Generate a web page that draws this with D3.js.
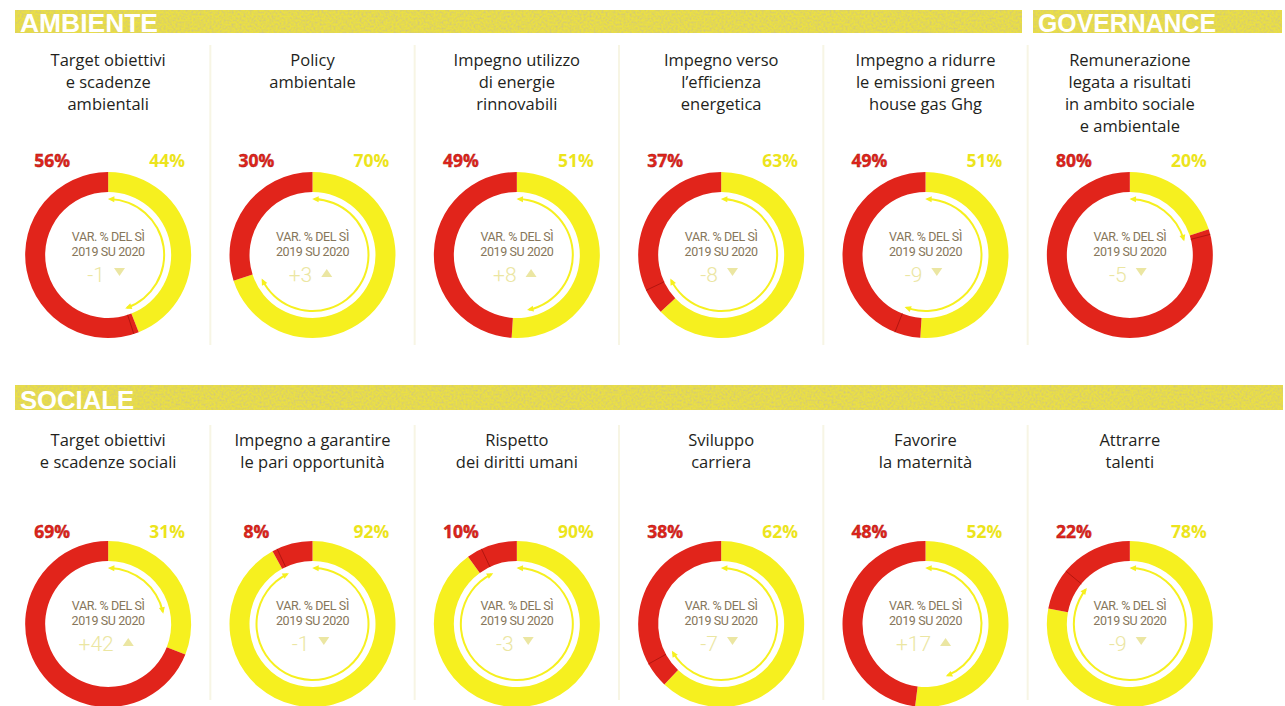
<!DOCTYPE html>
<html><head><meta charset="utf-8">
<script src="https://cdn.jsdelivr.net/npm/d3@7"></script>
<style>
html,body{margin:0;padding:0;background:#fff;}
svg{display:block;}
</style></head>
<body>
<svg id="c" width="1285" height="706"></svg>
<script>
// ---------- DATA ----------
const sections = ["AMBIENTE", "GOVERNANCE", "SOCIALE"];

const topTitles = [
  ["Target obiettivi", "e scadenze", "ambientali"],
  ["Policy", "ambientale"],
  ["Impegno utilizzo", "di energie", "rinnovabili"],
  ["Impegno verso", "l’efficienza", "energetica"],
  ["Impegno a ridurre", "le emissioni green", "house gas Ghg"],
  ["Remunerazione", "legata a risultati", "in ambito sociale", "e ambientale"]
];
const topNo  = [56, 30, 49, 37, 49, 80];   // red
const topYes = [44, 70, 51, 63, 51, 20];   // yellow
const topPrev = [0.45, 0.68, 0.47, 0.68, 0.56, 0.21]; // inner arc extent (share of circle)
const topVar = ["-1", "+3", "+8", "-8", "-9", "-5"];

const botTitles = [
  ["Target obiettivi", "e scadenze sociali"],
  ["Impegno a garantire", "le pari opportunità"],
  ["Rispetto", "dei diritti umani"],
  ["Sviluppo", "carriera"],
  ["Favorire", "la maternità"],
  ["Attrarre", "talenti"]
];
const botNo  = [69, 8, 10, 38, 48, 22];
const botYes = [31, 92, 90, 62, 52, 78];
const botPrev = [0.22, 0.93, 0.93, 0.67, 0.44, 0.86];
const botVar = ["+42", "-1", "-3", "-7", "+17", "-9"];

const centerLines = ["VAR. % DEL SÌ", "2019 SU 2020"];

// ---------- STYLE ----------
const RED = "#e1241b", YEL = "#f6f01f", YEL_TXT = "#ece41c", PALE = "#ebe6a2", MID = "#86765a";
const R_OUT = 83, R_IN = 63, R_ARC = 56;

const svg = d3.select("#c");
const defs = svg.append("defs");
const f = defs.append("filter").attr("id", "grain").attr("x", 0).attr("y", 0).attr("width", 1).attr("height", 1);
f.append("feTurbulence").attr("type", "fractalNoise").attr("baseFrequency", 0.5).attr("numOctaves", 3).attr("seed", 7).attr("result", "n");
f.append("feColorMatrix").attr("in", "n").attr("type", "matrix")
  .attr("values", "0 0 0 0 0.6  0 0 0 0 0.53  0 0 0 0 0.25  2.4 0 0 0 -0.95").attr("result", "s");
f.append("feComposite").attr("in", "s").attr("in2", "SourceGraphic").attr("operator", "in");

const x = d3.scaleBand().domain(d3.range(6)).range([6, 1232]);
const cx = i => x(i) + x.bandwidth() / 2;

// ---------- BANDS ----------
const bands = [
  {name: sections[0], x0: 15, x1: 1022, y0: 10, y1: 33, tw: 138},
  {name: sections[1], x0: 1033, x1: 1282, y0: 10, y1: 33, tw: 178},
  {name: sections[2], x0: 15, x1: 1283, y0: 385, y1: 410, tw: 114}
];
bands.forEach(b => {
  svg.append("rect").attr("x", b.x0).attr("y", b.y0).attr("width", b.x1 - b.x0).attr("height", b.y1 - b.y0).attr("fill", "#eadf45");
  svg.append("rect").attr("x", b.x0).attr("y", b.y0).attr("width", b.x1 - b.x0).attr("height", b.y1 - b.y0)
    .attr("fill", "#fff").attr("filter", "url(#grain)").attr("opacity", 0.7);
  svg.append("text").attr("x", b.x0 + 5).attr("y", b.y1 - 1)
    .attr("font-family", "Liberation Sans, Arial, sans-serif").attr("font-weight", 700)
    .attr("font-size", 25).attr("fill", "#fff")
    .attr("textLength", b.tw).attr("lengthAdjust", "spacingAndGlyphs").text(b.name);
});

// faint column separators
[0, 1].forEach(r => {
  const y0 = r ? 425 : 45, y1 = r ? 700 : 345;
  d3.range(1, 6).forEach(i => {
    svg.append("line").attr("x1", x(i)).attr("x2", x(i)).attr("y1", y0).attr("y2", y1)
      .attr("stroke", "#f7f5e4").attr("stroke-width", 2);
  });
});

const pie = d3.pie().sort(null).value(d => d.v);
const arc = d3.arc().innerRadius(R_IN).outerRadius(R_OUT);

function row(titles, no, yes, prev, vars, titleY, pctY, cy) {
  titles.forEach((lines, i) => {
    const g = svg.append("g").attr("transform", `translate(${cx(i)},0)`);
    // title
    lines.forEach((t, k) => {
      g.append("text").attr("x", 0).attr("y", titleY + k * 22).attr("text-anchor", "middle")
        .attr("font-family", "Open Sans, Noto Sans, sans-serif").attr("font-size", 16.5)
        .attr("font-weight", 500).attr("fill", "#231f1c").text(t);
    });
    // percentages
    g.append("text").attr("x", -56).attr("y", pctY).attr("text-anchor", "middle")
      .attr("font-family", "Open Sans, sans-serif").attr("font-weight", 700).attr("font-size", 17.5)
      .attr("fill", RED).attr("stroke", "#a3160f").attr("stroke-width", 0.4).text(no[i] + "%");
    g.append("text").attr("x", 59).attr("y", pctY).attr("text-anchor", "middle")
      .attr("font-family", "Open Sans, sans-serif").attr("font-weight", 700).attr("font-size", 17.5)
      .attr("fill", YEL_TXT).text(yes[i] + "%");
    // donut
    const dg = g.append("g").attr("transform", `translate(0,${cy})`);
    const arcs = pie([{k: "yes", v: yes[i]}, {k: "no", v: no[i]}]);
    dg.selectAll("path.seg").data(arcs).join("path").attr("class", "seg")
      .attr("d", arc).attr("fill", d => d.data.k === "yes" ? YEL : RED);
    // previous-split tick (visible only inside the red part)
    const a = prev[i] * 2 * Math.PI;
    if (prev[i] > yes[i] / 100) {
      dg.append("line")
        .attr("x1", Math.sin(a) * R_IN).attr("y1", -Math.cos(a) * R_IN)
        .attr("x2", Math.sin(a) * R_OUT).attr("y2", -Math.cos(a) * R_OUT)
        .attr("stroke", "#b3150f").attr("stroke-width", 1);
    }
    // inner arc
    const inner = d3.arc().innerRadius(R_ARC - 1).outerRadius(R_ARC + 1).startAngle(0.03).endAngle(a - 0.03);
    dg.append("path").attr("d", inner()).attr("fill", YEL);
    // arrowheads at both ends
    [[0.03, -1], [a - 0.03, 1]].forEach(([ang, dir]) => {
      const px = Math.sin(ang) * R_ARC, py = -Math.cos(ang) * R_ARC;
      const tx = Math.cos(ang) * dir, ty = Math.sin(ang) * dir;
      const nx = Math.sin(ang), ny = -Math.cos(ang);
      const L = 4.5, W = 3;
      const tip = [px + tx * 2, py + ty * 2];
      const b1 = [px - tx * L + nx * W, py - ty * L + ny * W];
      const b2 = [px - tx * L - nx * W, py - ty * L - ny * W];
      dg.append("path").attr("d", `M${tip}L${b1}L${b2}Z`).attr("fill", YEL);
    });
    // center text
    centerLines.forEach((t, k) => {
      dg.append("text").attr("x", 0).attr("y", -14 + k * 15).attr("text-anchor", "middle")
        .attr("font-family", "Liberation Sans Narrow, Roboto, sans-serif").attr("font-size", 12.5)
        .attr("letter-spacing", -0.4).attr("fill", MID).text(t);
    });
    const vt = dg.append("text").attr("y", 27).attr("font-family", "Roboto, sans-serif")
      .attr("font-weight", 300).attr("font-size", 21).attr("fill", PALE).text(vars[i]);
    const w = vt.node().getComputedTextLength();
    const total = w + 9 + 11;
    const sx = -total / 2 - 2;
    vt.attr("x", sx);
    const tcx = sx + w + 9 + 5.5, up = vars[i].startsWith("+");
    const tri = up ? `M${tcx - 5.5},${22}L${tcx + 5.5},${22}L${tcx},${14}Z`
                   : `M${tcx - 5.5},${13}L${tcx + 5.5},${13}L${tcx},${21}Z`;
    dg.append("path").attr("d", tri).attr("fill", PALE);
  });
}

row(topTitles, topNo, topYes, topPrev, topVar, 66, 167, 255);
row(botTitles, botNo, botYes, botPrev, botVar, 446, 538, 624);
</script>
</body></html>
